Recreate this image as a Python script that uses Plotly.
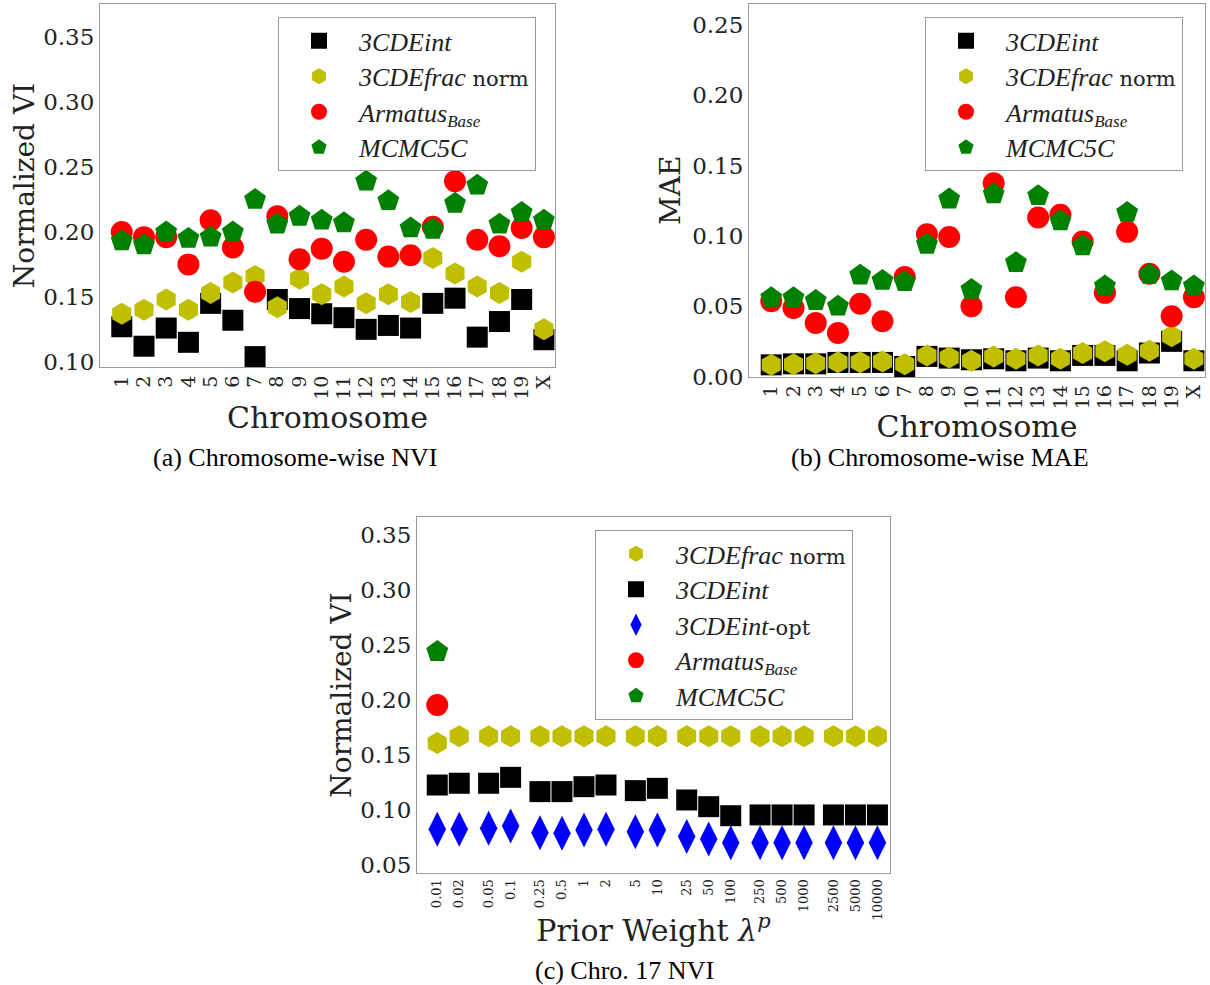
import plotly.graph_objects as go

# ---------------- data ----------------
chromosomes = [str(i) for i in range(1, 20)] + ["X"]

# (a) Chromosome-wise NVI
nvi_3cdeint = [0.127, 0.112, 0.126, 0.115, 0.145, 0.132, 0.104, 0.148, 0.141, 0.137,
               0.134, 0.125, 0.128, 0.126, 0.145, 0.149, 0.119, 0.131, 0.148, 0.117]
nvi_3cdefrac = [0.137, 0.140, 0.148, 0.140, 0.153, 0.161, 0.166, 0.142, 0.164, 0.152,
                0.158, 0.145, 0.152, 0.146, 0.180, 0.168, 0.158, 0.153, 0.177, 0.125]
nvi_armatus = [0.200, 0.196, 0.196, 0.175, 0.209, 0.188, 0.154, 0.212, 0.179, 0.187,
               0.177, 0.194, 0.181, 0.182, 0.204, 0.239, 0.194, 0.189, 0.203, 0.196]
nvi_mcmc5c = [0.193, 0.190, 0.200, 0.195, 0.196, 0.200, 0.225, 0.206, 0.212, 0.209,
              0.207, 0.239, 0.224, 0.203, 0.202, 0.222, 0.236, 0.206, 0.215, 0.209]

# (b) Chromosome-wise MAE
mae_3cdeint = [0.0083, 0.0090, 0.0090, 0.0100, 0.0100, 0.0100, 0.0071, 0.0143, 0.0131, 0.0119,
               0.0126, 0.0112, 0.0131, 0.0112, 0.0150, 0.0150, 0.0112, 0.0167, 0.0250, 0.0112]
mae_3cdefrac = [0.0083, 0.0088, 0.0095, 0.0102, 0.0102, 0.0107, 0.0088, 0.0150, 0.0136, 0.0112,
                0.0143, 0.0126, 0.0150, 0.0126, 0.0167, 0.0179, 0.0155, 0.0183, 0.0286, 0.0126]
mae_armatus = [0.0536, 0.0488, 0.0381, 0.0310, 0.0517, 0.0393, 0.0707, 0.1012, 0.0993, 0.0500,
               0.1374, 0.0564, 0.1131, 0.1150, 0.0960, 0.0595, 0.1029, 0.0731, 0.0429, 0.0564]
mae_mcmc5c = [0.0560, 0.0560, 0.0540, 0.0500, 0.0721, 0.0683, 0.0674, 0.0940, 0.1262, 0.0619,
              0.1298, 0.0810, 0.1286, 0.1107, 0.0929, 0.0643, 0.1167, 0.0726, 0.0679, 0.0643]

# (c) Chro. 17 NVI vs prior weight
lambda_labels = ["0.01", "0.02", "0.05", "0.1", "0.25", "0.5", "1", "2", "5", "10",
                 "25", "50", "100", "250", "500", "1000", "2500", "5000", "10000"]
lambda_group = [0, 0, 1, 1, 2, 2, 2, 2, 3, 3, 4, 4, 4, 5, 5, 5, 6, 6, 6]
c17_3cdefrac = [0.161, 0.167, 0.167, 0.167, 0.167, 0.167, 0.167, 0.167, 0.167, 0.167,
                0.167, 0.167, 0.167, 0.167, 0.167, 0.167, 0.167, 0.167, 0.167]
c17_3cdeint = [0.1227, 0.1243, 0.1243, 0.1297, 0.1167, 0.1167, 0.1212, 0.1227, 0.1176, 0.1197,
               0.1091, 0.1030, 0.0948, 0.0955, 0.0955, 0.0955, 0.0955, 0.0955, 0.0955]
c17_3cdeint_opt = [0.0824, 0.0824, 0.0833, 0.0855, 0.0794, 0.0788, 0.0818, 0.0824, 0.0803, 0.0818,
                   0.0758, 0.0736, 0.0703, 0.0703, 0.0703, 0.0703, 0.0703, 0.0703, 0.0703]
c17_armatus = [0.1955]
c17_mcmc5c = [0.244]

# ---------------- style ----------------
BLACK = "#000000"
YELLOW = "rgb(191,191,0)"
RED = "#ff0000"
GREEN = "#008000"
BLUE = "#0000ff"
SERIF = "DejaVu Serif"

lam_x = [i + g / 3 for i, g in enumerate(lambda_group)]

fig = go.Figure()


def add(x, y, name, symbol, color, size, xa, ya, legend):
    fig.add_trace(go.Scatter(
        x=x, y=y, mode="markers", name=name,
        marker=dict(symbol=symbol, color=color, size=size, line=dict(width=0)),
        xaxis=xa, yaxis=ya, legend=legend, cliponaxis=False))


def it(s, size=26):
    return ("<span style=\"font-family:Liberation Serif;font-style:italic;font-size:%dpx\">" % size
            + s + "</span>")


def up(s):
    return "<span style=\"font-size:21px\">" + s + "</span>"


L_INT = it("3CDEint")
L_FRAC = it("3CDEfrac") + up(" norm")
L_ARM = it("Armatus") + "<sub>" + it("Base", 17) + "</sub>"
L_MC = it("MCMC5C")
L_OPT = it("3CDEint") + up("-opt")

# panel a
add(chromosomes, nvi_3cdeint, L_INT, "square", BLACK, 21, "x", "y", "legend")
add(chromosomes, nvi_3cdefrac, L_FRAC, "hexagon", YELLOW, 22, "x", "y", "legend")
add(chromosomes, nvi_armatus, L_ARM, "circle", RED, 22, "x", "y", "legend")
add(chromosomes, nvi_mcmc5c, L_MC, "pentagon", GREEN, 23, "x", "y", "legend")
# panel b
add(chromosomes, mae_3cdeint, L_INT, "square", BLACK, 21, "x2", "y2", "legend2")
add(chromosomes, mae_3cdefrac, L_FRAC, "hexagon", YELLOW, 22, "x2", "y2", "legend2")
add(chromosomes, mae_armatus, L_ARM, "circle", RED, 22, "x2", "y2", "legend2")
add(chromosomes, mae_mcmc5c, L_MC, "pentagon", GREEN, 23, "x2", "y2", "legend2")
# panel c
add(lam_x, c17_3cdefrac, L_FRAC, "hexagon", YELLOW, 22, "x3", "y3", "legend3")
add(lam_x, c17_3cdeint, L_INT, "square", BLACK, 21, "x3", "y3", "legend3")
add(lam_x, c17_3cdeint_opt, L_OPT, "diamond-tall", BLUE, 25, "x3", "y3", "legend3")
add(lam_x[:1], c17_armatus, L_ARM, "circle", RED, 22, "x3", "y3", "legend3")
add(lam_x[:1], c17_mcmc5c, L_MC, "pentagon", GREEN, 23, "x3", "y3", "legend3")

W, H = 1210, 985
frame = dict(showline=True, linecolor="#999999", linewidth=1, mirror=True,
             showgrid=False, zeroline=False, ticks="", automargin=False)
tickf = dict(family=SERIF, size=23, color="#222222")
ytitlef = dict(family=SERIF, size=28, color="#222222")
xtitlef = dict(family=SERIF, size=30, color="#222222")
chrtickf = dict(family=SERIF, size=19, color="#222222")

yticks = dict(tickmode="linear", tick0=0, dtick=0.05, tickformat=".2f")

fig.update_layout(
    width=W, height=H,
    margin=dict(l=0, r=0, t=0, b=0),
    paper_bgcolor="white", plot_bgcolor="white",
    xaxis=dict(domain=[100 / W, 555 / W], anchor="y", type="category",
               range=[-0.98, 19.5], tickmode="array", tickvals=chromosomes,
               tickangle=-90, tickfont=chrtickf,
               title=dict(text="Chromosome", font=xtitlef, standoff=0), **frame),
    yaxis=dict(domain=[1 - 367 / H, 1 - 4 / H], anchor="x", range=[0.096, 0.3755],
               tickfont=tickf, title=dict(text="Normalized VI", font=ytitlef, standoff=0),
               **yticks, **frame),
    xaxis2=dict(domain=[749 / W, 1205 / W], anchor="y2", type="category",
                range=[-1.0, 19.5], tickmode="array", tickvals=chromosomes,
                tickangle=-90, tickfont=chrtickf,
                title=dict(text="Chromosome", font=xtitlef, standoff=0), **frame),
    yaxis2=dict(domain=[1 - 376.5 / H, 1 - 4 / H], anchor="x2", range=[0.0, 0.265],
                tickfont=tickf, title=dict(text="MAE", font=ytitlef, standoff=3),
                **yticks, **frame),
    xaxis3=dict(domain=[417 / W, 890 / W], anchor="y3", range=[-0.92, 20.57],
                tickmode="array", tickvals=lam_x, ticktext=lambda_labels,
                tickangle=-90, tickfont=dict(family=SERIF, size=13, color="#222222"),
                title=dict(text="Prior Weight <i>λ</i><sup><i>p</i></sup>", font=xtitlef, standoff=0),
                **frame),
    yaxis3=dict(domain=[1 - 873 / H, 1 - 517 / H], anchor="x3", range=[0.0427, 0.3664],
                tickfont=tickf, title=dict(text="Normalized VI", font=ytitlef, standoff=0),
                **yticks, **frame),
)

legstyle = dict(bgcolor="white", bordercolor="#999999", borderwidth=1,
                font=dict(family=SERIF, size=25, color="#222222"),
                itemsizing="trace", itemwidth=70, xanchor="left", yanchor="top",
                tracegroupgap=0)
fig.update_layout(
    legend=dict(x=278 / W, y=1 - 17 / H, **legstyle),
    legend2=dict(x=925 / W, y=1 - 17 / H, **legstyle),
    legend3=dict(x=595 / W, y=1 - 530 / H, **legstyle),
)

capf = dict(family="Liberation Serif", size=26, color="#000000")
for txt, cx, cy in [("(a) Chromosome-wise NVI", 295, 458),
                    ("(b) Chromosome-wise MAE", 940, 458),
                    ("(c) Chro. 17 NVI", 625, 970)]:
    fig.add_annotation(text=txt, xref="paper", yref="paper", x=cx / W, y=1 - cy / H,
                       showarrow=False, font=capf, xanchor="center", yanchor="middle")

fig.write_html("out.html")
